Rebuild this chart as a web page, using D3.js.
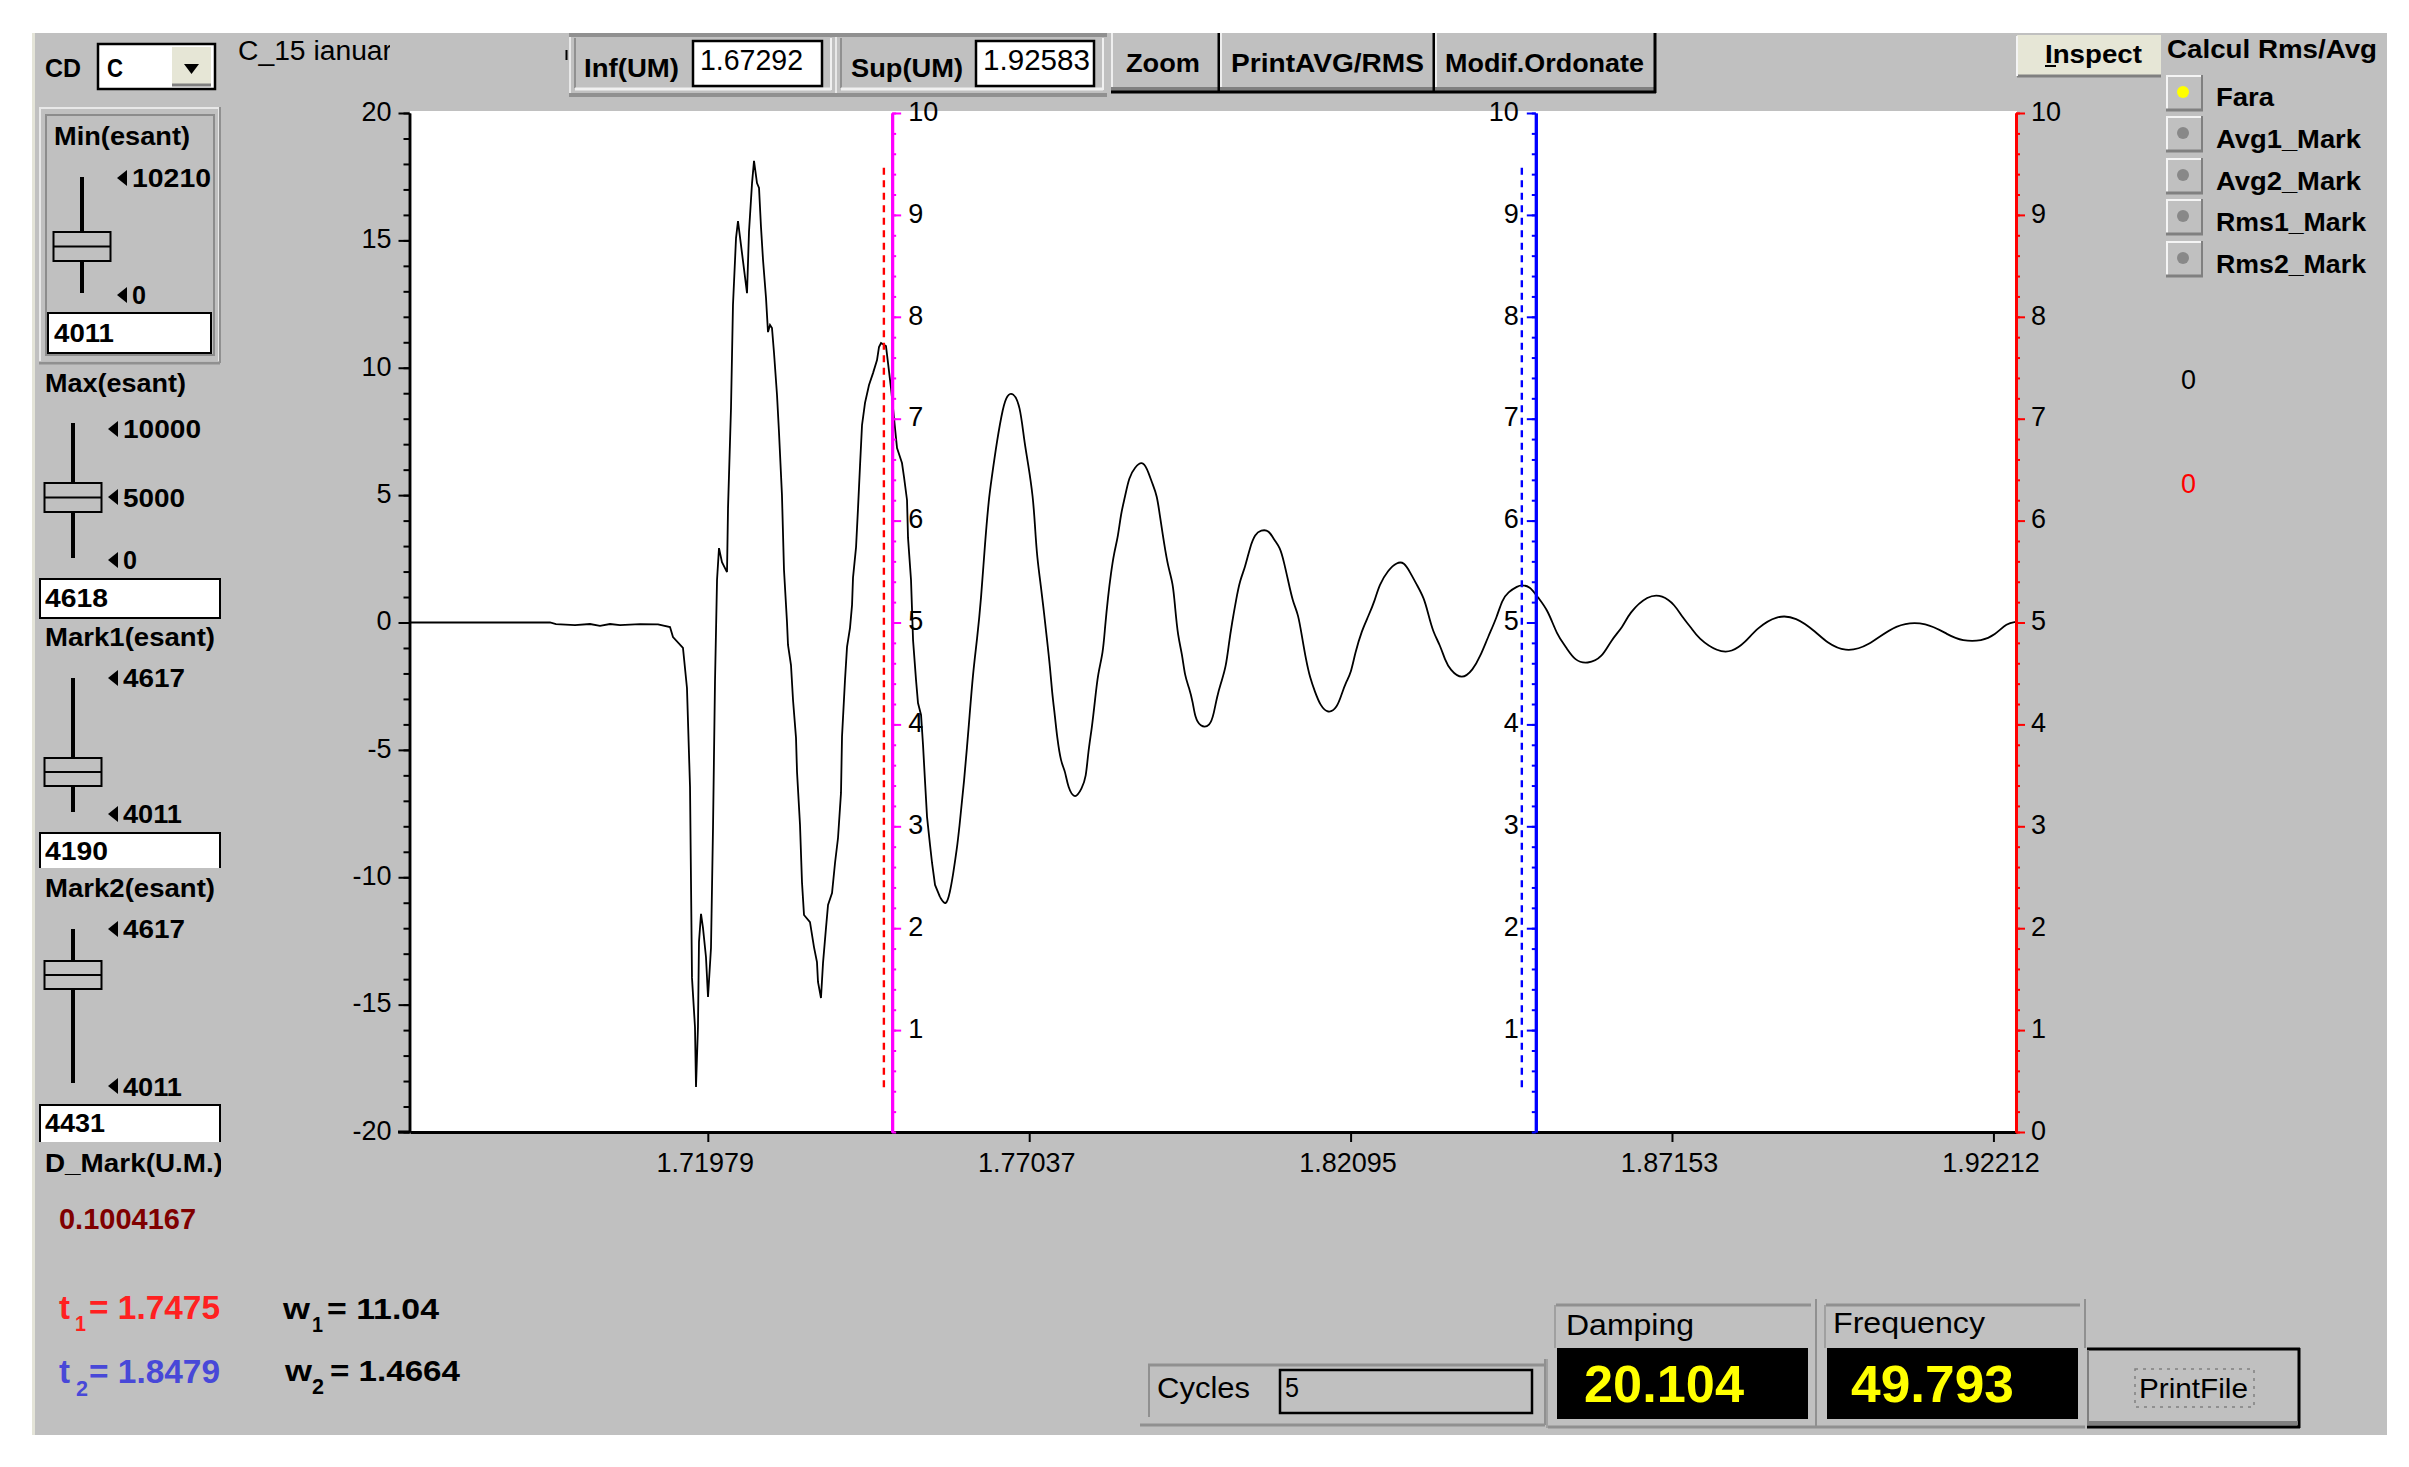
<!DOCTYPE html>
<html>
<head>
<meta charset="utf-8">
<title>C_15 ianuar</title>
<script src="https://cdnjs.cloudflare.com/ajax/libs/d3/7.8.5/d3.min.js"></script>
<style>
html, body { margin: 0; padding: 0; background: #fff; }
svg { display: block; }
text { font-family: "Liberation Sans", Arial, sans-serif; }
</style>
</head>
<body>
<div id="chart"></div>
<script>
// trace: time (U.M.) and amplitude
const traceT = [1.67292,1.69495,1.69590,1.69889,1.70125,1.70282,1.70440,1.70597,1.70912,1.71195,1.71384,1.71431,1.71588,1.71651,1.71699,1.71730,1.71777,1.71793,1.71824,1.71840,1.71872,1.71903,1.71950,1.71982,1.72029,1.72061,1.72092,1.72124,1.72155,1.72202,1.72281,1.72297,1.72344,1.72375,1.72423,1.72454,1.72517,1.72596,1.72627,1.72675,1.72706,1.72753,1.72785,1.72816,1.72848,1.72895,1.72926,1.72958,1.72989,1.73021,1.73068,1.73099,1.73146,1.73178,1.73225,1.73241,1.73288,1.73320,1.73367,1.73383,1.73430,1.73461,1.73493,1.73587,1.73650,1.73697,1.73713,1.73760,1.73792,1.73839,1.73871,1.73934,1.73981,1.74028,1.74075,1.74091,1.74138,1.74170,1.74217,1.74249,1.74264,1.74312,1.74343,1.74375,1.74406,1.74453,1.74516,1.74579,1.74642,1.74673,1.74705,1.74783,1.74815,1.74862,1.74894,1.74925,1.74957,1.75035,1.75067,1.75114,1.75130,1.75177,1.75209,1.75256,1.75287,1.75335,1.75366,1.75398,1.75429,1.75476,1.75508,1.75555,1.75634,1.75728,1.75791,1.75838,1.75901,1.75933,1.76011,1.76090,1.76153,1.76216,1.76279,1.76342,1.76405,1.76436,1.76531,1.76625,1.76688,1.76783,
    1.76893,1.76956,1.77019,1.77098,1.77129,1.77160,1.77223,1.77271,1.77318,1.77365,1.77396,1.77444,1.77475,1.77538,1.77601,1.77648,1.77758,1.77868,1.77931,1.77963,1.78026,1.78073,1.78120,1.78199,1.78230,1.78277,1.78324,1.78372,1.78435,1.78482,1.78545,1.78608,1.78702,1.78812,1.78891,1.78970,1.79049,1.79096,1.79159,1.79222,1.79300,1.79332,1.79379,1.79442,1.79489,1.79552,1.79615,1.79646,1.79725,1.79882,1.79945,1.79992,1.80055,1.80134,1.80181,1.80229,1.80292,1.80355,1.80433,1.80512,1.80591,1.80685,1.80811,1.80890,1.80984,1.81047,1.81110,1.81189,1.81268,1.81331,1.81394,1.81457,1.81536,1.81614,1.81740,1.81882,1.81960,1.82023,1.82102,1.82165,1.82275,1.82370,1.82480,1.82543,1.82685,1.82826,1.82936,1.83030,1.83140,1.83251,1.83314,1.83392,1.83502,1.83581,1.83660,1.83848,1.84021,1.84132,1.84258,1.84399,1.84478,1.84572,1.84730,
    1.84777,1.84918,1.85036,1.85201,1.85343,1.85484,1.85626,1.85823,1.86051,1.86193,1.86381,1.86476,1.86775,1.87003,1.87200,1.87310,1.87451,1.87561,1.87876,1.88096,1.88301,1.88490,1.88805,1.89104,1.89419,1.89592,1.89875,1.90237,1.90677,1.91165,1.91496,1.91724,1.92031,1.92236,1.92425,1.92567]
const traceV = [0,0,-0.06,-0.10,-0.06,-0.13,-0.06,-0.10,-0.06,-0.07,-0.18,-0.57,-1.00,-2.57,-6.46,-13.95,-15.88,-18.23,-15.88,-12.54,-11.44,-11.99,-13.13,-14.70,-12.78,-8.03,-2.34,1.67,2.92,2.37,1.98,4.49,8.42,12.46,15.09,15.76,14.50,12.93,15.33,17.25,18.12,17.25,17.06,15.52,14.23,12.74,11.40,11.68,11.56,10.58,8.93,7.48,5.00,2.06,0.02,-0.88,-1.67,-3.04,-4.53,-5.87,-7.95,-10.19,-11.48,-11.76,-12.74,-13.33,-14.11,-14.74,-13.37,-11.99,-11.09,-10.62,-9.44,-8.46,-6.69,-4.49,-2.26,-0.96,-0.21,0.69,1.75,2.96,4.49,6.18,7.75,8.62,9.32,9.79,10.30,10.81,10.97,10.85,10.19,9.20,8.42,7.63,6.85,6.26,5.71,4.81,3.32,1.67,-0.69,-2.26,-3.16,-3.63,-4.81,-6.26,-7.63,-8.73,-9.44,-10.30,-10.78,-11.17,-10.58,-9.91,-8.85,-8.15,-6.30,-3.95,-1.94,-0.69,0.88,3.16,4.93,5.48,7.16,8.46,8.93,9.05,
    8.54,7.16,6.26,4.93,3.75,2.57,1.39,0.37,-0.69,-1.75,-2.73,-3.71,-4.49,-5.52,-5.79,-6.50,-6.97,-6.50,-6.10,-5.12,-4.10,-3.04,-1.98,-1.20,-0.18,1.00,1.94,2.73,3.36,4.30,4.93,5.71,6.10,6.34,6.06,5.48,5.00,4.14,3.12,2.18,1.55,0.61,-0.57,-1.20,-2.14,-2.53,-3.16,-3.71,-4.10,-4.10,-3.55,-2.92,-2.37,-1.75,-0.80,-0.02,0.88,1.67,2.14,2.96,3.47,3.63,3.63,3.24,2.96,2.37,1.67,0.77,0.37,-0.57,-1.47,-2.18,-2.73,-3.24,-3.59,-3.36,-2.77,-2.34,-1.98,-1.20,-0.29,0.22,0.88,1.47,2.06,2.37,2.37,1.98,1.47,0.96,0.37,-0.37,-0.88,-1.47,-1.86,-2.26,-1.86,-1.35,-0.57,0.22,0.88,1.20,1.43,
    1.47,1.43,1.00,0.49,-0.49,-0.96,-1.51,-1.63,-1.39,-0.69,-0.18,0.37,1.08,1.08,0.69,0.22,-0.18,-0.61,-1.16,-1.16,-0.80,-0.22,0.29,0.22,-0.37,-0.80,-1.16,-0.96,-0.02,0.02,-0.49,-0.73,-0.73,-0.49,-0.02,0.02]

// the impact part stays sharp, the ringing after it is drawn smooth
const smoothFrom = 1.75634

const timeDomain = [1.67292, 1.92583]
const timeTicks = [1.71979, 1.77037, 1.82095, 1.87153, 1.92212]
const ampTicks = [-20, -15, -10, -5, 0, 5, 10, 15, 20]
const ampMinor = d3.range(-20, 21)
const markerTicks = [1, 2, 3, 4, 5, 6, 7, 8, 9, 10]
const markerMinor = d3.range(0, 10.01, 0.2)

// marker positions on the time axis, solid and dashed
const mark1Solid = 1.7488, mark1Dash = 1.7475
const mark2Solid = 1.8501, mark2Dash = 1.8479
const dashSpan = [0.44, 9.47]

const radioLabels = ['Fara', 'Avg1_Mark', 'Avg2_Mark', 'Rms1_Mark', 'Rms2_Mark']

const W = 2409, H = 1467
const grey = '#c0c0c0', dark = '#808080', cream = '#e6e6d6'

const svg = d3.select('#chart').append('svg').attr('width', W).attr('height', H)
svg.append('rect').attr('width', W).attr('height', H).attr('fill', '#fff')
svg.append('rect').attr('x', 34).attr('y', 33).attr('width', 2353).attr('height', 1402).attr('fill', grey)
svg.append('rect').attr('x', 32).attr('y', 33).attr('width', 3).attr('height', 1402).attr('fill', '#e4e4d8')

function box(x0, y0, x1, y1, fill, stroke, sw) {
    return svg.append('rect').attr('x', x0).attr('y', y0).attr('width', x1 - x0).attr('height', y1 - y0)
        .attr('fill', fill || 'none').attr('stroke', stroke || 'none').attr('stroke-width', sw || 0)
}

function line(x0, y0, x1, y1, stroke, sw) {
    return svg.append('line').attr('x1', x0).attr('y1', y0).attr('x2', x1).attr('y2', y1)
        .attr('stroke', stroke || '#000').attr('stroke-width', sw || 2)
}

// text squeezed to the width it has in the screenshot
function label(x, y, str, w, opt) {
    opt = opt || {}
    const t = svg.append('text').attr('x', x).attr('y', y).text(str)
        .attr('font-size', opt.size || 26)
        .attr('font-weight', opt.normal ? 400 : 700)
        .attr('fill', opt.fill || '#000')
    if (w) t.attr('textLength', w).attr('lengthAdjust', 'spacingAndGlyphs')
    return t
}

function slider(x, y0, y1, thumb0, thumb1) {
    line(x, y0, x, y1, '#000', 4)
    box(x - 28.5, thumb0, x + 28.5, thumb1, grey, '#000', 2)
    line(x - 28.5, (thumb0 + thumb1) / 2, x + 28.5, (thumb0 + thumb1) / 2, '#000', 2)
}

function stop(x, cy, base, str, w) {
    svg.append('path').attr('d', `M${x},${cy}l10,-8v16z`).attr('fill', '#000')
    label(x + 15, base, str, w)
}

// plot area
box(410, 111, 2017, 1131, '#fff')

const x = d3.scaleLinear().domain(timeDomain).range([410, 2017])
const y = d3.scaleLinear().domain([-20, 20]).range([1132, 113])
const yMark = d3.scaleLinear().domain([0, 10]).range([1132, 113])

const points = d3.zip(traceT, traceV)
const cut = d3.bisectLeft(traceT, smoothFrom)
const trace = d3.line().x(d => x(d[0])).y(d => y(d[1]))
svg.append('path').datum(points.slice(0, cut + 1)).attr('d', trace)
    .attr('fill', 'none').attr('stroke', '#000').attr('stroke-width', 1.8)
svg.append('path').datum(points.slice(cut)).attr('d', trace.curve(d3.curveBasis))
    .attr('fill', 'none').attr('stroke', '#000').attr('stroke-width', 1.8)

function dashed(t, colour) {
    line(x(t), yMark(dashSpan[0]), x(t), yMark(dashSpan[1]), colour, 2.4).attr('stroke-dasharray', '7 5.5')
}
dashed(mark1Dash, '#ff0000')
dashed(mark2Dash, '#0000ff')

function styleAxis(g, colour, sw, labelX, anchor) {
    g.selectAll('.domain').attr('stroke', colour).attr('stroke-width', sw)
    g.selectAll('.tick line').attr('stroke', colour).attr('stroke-width', 2)
    g.selectAll('.tick text').attr('font-size', 27).attr('fill', '#000').attr('dy', '0.27em')
        .attr('font-family', '"Liberation Sans", Arial, sans-serif')
    if (labelX !== undefined) g.selectAll('.tick text').attr('x', labelX).attr('text-anchor', anchor)
}

function addAxis(axis, px, py, colour, sw, labelX, anchor) {
    const g = svg.append('g').attr('transform', `translate(${px},${py})`).call(axis)
    styleAxis(g, colour, sw, labelX, anchor)
    return g
}

// left amplitude axis
addAxis(d3.axisLeft(y).tickValues(ampMinor).tickSize(6).tickSizeOuter(0).tickFormat(''), 409.5, 0, '#000', 2.5)
addAxis(d3.axisLeft(y).tickValues(ampTicks).tickSize(11).tickSizeOuter(0).tickFormat(d => String(d)), 409.5, 0, '#000', 2.5, -18, 'end')

// bottom time axis
const gx = svg.append('g').attr('transform', 'translate(0,1132)')
    .call(d3.axisBottom(x).tickValues(timeTicks).tickSize(10).tickSizeOuter(0).tickFormat(d3.format('.5f')))
gx.selectAll('.domain').attr('stroke', '#000').attr('stroke-width', 3)
gx.selectAll('.tick line').attr('stroke', '#000').attr('stroke-width', 2)
gx.selectAll('.tick text').attr('font-size', 27).attr('fill', '#000').attr('y', 21).attr('dy', '0.71em').attr('dx', -3)
    .attr('font-family', '"Liberation Sans", Arial, sans-serif')
line(398, 1132, 410, 1132, '#000', 3)

// marker axes: magenta, blue and the red one on the right edge
function markerAxis(make, px, colour, ticks, labelX, anchor) {
    addAxis(make(yMark).tickValues(markerMinor).tickSize(4).tickSizeOuter(0).tickFormat(''), px, 0, colour, 3)
    addAxis(make(yMark).tickValues(ticks).tickSize(9).tickSizeOuter(0), px, 0, colour, 3, labelX, anchor)
}
markerAxis(d3.axisRight, x(mark1Solid), '#ff00ff', markerTicks, 16, 'start')
markerAxis(d3.axisLeft, x(mark2Solid), '#0000ff', markerTicks, -17, 'end')
markerAxis(d3.axisRight, 2016, '#ff0000', [0].concat(markerTicks), 15, 'start')

// left column of sliders
box(40, 108, 219, 362, 'none', '#e8e8e8', 2)
line(39, 363, 220, 363, '#909090', 3)
line(220, 107, 220, 363, '#909090', 2)
box(46, 115, 214, 355, 'none', '#8c8c8c', 2)
label(45, 77, 'CD', 36)
box(98, 44, 215, 89, '#fff', '#000', 2.5)
label(107, 77, 'C', 16)
box(172, 47, 211, 86, cream)
line(172, 85, 211, 85, dark, 3)
svg.append('path').attr('d', 'M184,64h15l-7.5,10z').attr('fill', '#000')

label(238, 60, 'C_15 ianuar', 154, { normal: true, size: 27 })
box(390, 40, 396, 70, grey)
line(566.5, 50, 566.5, 60, '#000', 2)

label(54, 145, 'Min(esant)', 136)
slider(82, 177, 293, 232, 261)
stop(117, 178, 187, '10210', 79)
stop(117, 295, 304, '0', 14)
box(48, 313, 211, 353, '#fff', '#000', 2)
label(54, 342, '4011', 60)

label(45, 392, 'Max(esant)', 141)
slider(73, 423, 558, 483, 512)
stop(108, 429, 438, '10000', 78)
stop(108, 497, 507, '5000', 62)
stop(108, 560, 569, '0', 14)
box(40, 579, 220, 618, '#fff', '#000', 2)
label(45, 607, '4618', 63)

label(45, 646, 'Mark1(esant)', 170)
slider(73, 678, 812, 758, 786)
stop(108, 678, 687, '4617', 62)
stop(108, 814, 823, '4011', 59)
box(40, 833, 220, 880, '#fff', '#000', 2)
box(36, 868, 224, 884, grey)
label(45, 860, '4190', 63)

label(45, 897, 'Mark2(esant)', 170)
slider(73, 929, 1083, 961, 989)
stop(108, 929, 938, '4617', 62)
stop(108, 1086, 1096, '4011', 59)
box(40, 1105, 220, 1150, '#fff', '#000', 2)
box(36, 1142, 224, 1154, grey)
label(45, 1132, '4431', 60)

label(45, 1172, 'D_Mark(U.M.)', 178)
box(221, 1145, 240, 1180, grey)

label(59, 1229, '0.1004167', 137, { fill: '#800000', size: 30 })

label(59, 1319, 't', 11, { fill: '#ff2020', size: 33 })
label(75, 1331, '1', 11, { fill: '#ff2020', size: 22 })
label(89, 1319, '= 1.7475', 131, { fill: '#ff2020', size: 33 })
label(283, 1319, 'w', 27, { size: 30 })
label(312, 1332, '1', 11, { size: 22 })
label(327, 1319, '= 11.04', 112, { size: 30 })

label(59, 1383, 't', 11, { fill: '#4848d8', size: 33 })
label(76, 1396, '2', 12, { fill: '#4848d8', size: 22 })
label(89, 1383, '= 1.8479', 131, { fill: '#4848d8', size: 33 })
label(285, 1381, 'w', 27, { size: 30 })
label(312, 1394, '2', 12, { size: 22 })
label(330, 1381, '= 1.4664', 130, { size: 30 })

// top toolbar
function group(x0, x1) {
    box(x0, 33, x1, 97, grey)
    line(x0 + 1, 33, x0 + 1, 97, '#e8e8e8', 2)
    line(x0, 35, x1, 35, '#909090', 4)
    line(x0 + 6, 38, x0 + 6, 88, '#909090', 2)
    line(x0 + 6, 89, x1 - 4, 89, '#f0f0f0', 3)
    line(x1 - 4, 38, x1 - 4, 90, '#f0f0f0', 2)
    line(x0, 95, x1, 95, '#909090', 4)
}
group(569, 835)
group(835, 1107)
label(584, 77, 'Inf(UM)', 95)
box(693, 41, 822, 86, '#fff', '#000', 2.5)
label(700, 70, '1.67292', 103, { normal: true, size: 29 })
label(851, 77, 'Sup(UM)', 112)
box(976, 41, 1094, 86, '#fff', '#000', 2.5)
label(983, 70, '1.92583', 107, { normal: true, size: 29 })

function button(x0, x1, str, tx, tw) {
    box(x0, 33, x1, 92, grey)
    line(x0 + 1, 33, x0 + 1, 90, '#eeeeee', 2)
    line(x0, 89, x1, 89, dark, 4)
    line(x0, 92, x1, 92, '#000', 3)
    line(x1 - 1, 33, x1 - 1, 93, '#000', 3)
    label(tx, 72, str, tw)
}
button(1111, 1220, 'Zoom', 1126, 74)
button(1220, 1435, 'PrintAVG/RMS', 1231, 193)
button(1435, 1656, 'Modif.Ordonate', 1445, 199)

// right column
box(2017, 35, 2161, 75, cream)
line(2017, 76, 2161, 76, dark, 3)
line(2017, 36, 2017, 76, '#f4f4f4', 2)
label(2045, 63, 'Inspect', 97)
line(2045, 66, 2056, 66, '#000', 2)
label(2167, 58, 'Calcul Rms/Avg', 210)

radioLabels.forEach((d, i) => {
    const top = [75, 116, 158, 199, 241][i]
    box(2166, top, 2203, top + 36, grey)
    line(2166, top + 1, 2203, top + 1, '#f4f4f4', 2)
    line(2167, top, 2167, top + 36, '#f4f4f4', 2)
    line(2166, top + 35, 2203, top + 35, dark, 3)
    line(2202, top, 2202, top + 36, dark, 2)
    svg.append('circle').attr('cx', 2183).attr('cy', top + 17).attr('r', 6)
        .attr('fill', i === 0 ? '#ffff00' : '#888888')
    label(2216, [106, 148, 190, 231, 273][i], d, [58, 145, 145, 150, 150][i])
})
label(2181, 389, '0', 15, { normal: true, size: 28 })
label(2181, 493, '0', 15, { normal: true, size: 28, fill: '#ff0000' })

// bottom readouts
line(1148, 1365, 1545, 1365, '#909090', 3)
line(1149, 1365, 1149, 1417, '#909090', 2)
line(1140, 1425, 1545, 1425, '#909090', 3)
line(1545, 1359, 1545, 1425, '#909090', 2)
label(1157, 1398, 'Cycles', 93, { normal: true, size: 30 })
box(1280, 1370, 1532, 1413, 'none', '#000', 2.5)
label(1285, 1397, '5', 14, { normal: true, size: 28 })

function readout(x0, x1, title, tx, tw, base, value, vx, vw) {
    line(x0 + 8, 1305, x1 - 5, 1305, '#909090', 3)
    line(x0 + 7, 1305, x0 + 7, 1348, '#a0a0a0', 2)
    box(x0 + 9, 1348, x0 + 260, 1419, '#000')
    label(tx, base, title, tw, { normal: true, size: 30 })
    label(vx, 1402, value, vw, { fill: '#ffff00', size: 52 })
}
readout(1548, 1816, 'Damping', 1566, 128, 1335, '20.104', 1584, 160)
readout(1818, 2085, 'Frequency', 1833, 152, 1333, '49.793', 1851, 163)
line(1548, 1427, 2085, 1427, '#909090', 3)
line(1816, 1299, 1816, 1428, '#909090', 2)
line(2085, 1299, 2085, 1348, '#909090', 2)
line(1547, 1359, 1547, 1428, '#a0a0a0', 2)

box(2087, 1348, 2300, 1428, grey)
line(2087, 1349, 2300, 1349, '#000', 3)
line(2299, 1348, 2299, 1428, '#000', 3)
line(2087, 1423, 2298, 1423, dark, 4)
line(2087, 1427, 2300, 1427, '#000', 3)
line(2088, 1350, 2088, 1422, dark, 2)
label(2139, 1398, 'PrintFile', 109, { normal: true, size: 28 })
box(2135, 1369, 2254, 1407, 'none', dark, 1.5).attr('stroke-dasharray', '3 5')
</script>
</body>
</html>
